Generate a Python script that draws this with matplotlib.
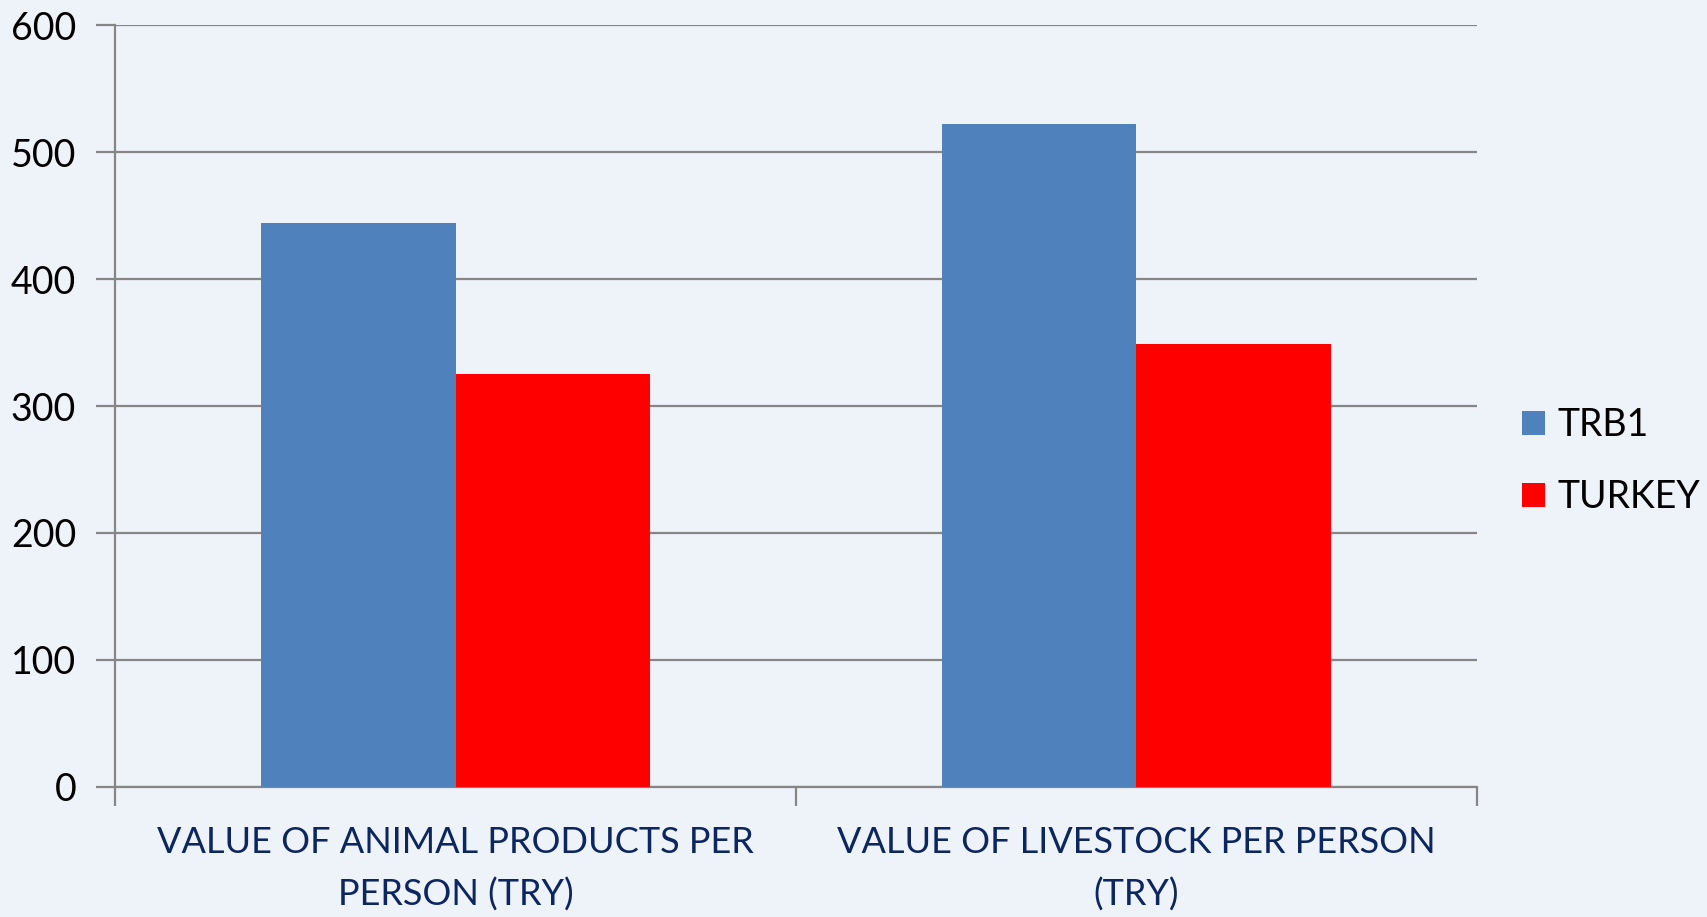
import matplotlib.pyplot as plt
import numpy as np

# chart data
categories = ['VALUE OF ANIMAL PRODUCTS PER\nPERSON (TRY)',
              'VALUE OF LIVESTOCK PER PERSON\n(TRY)']
series_names = ['TRB1', 'TURKEY']
trb1 = [444, 522]
turkey = [325, 349]
y_ticks = [0, 100, 200, 300, 400, 500, 600]

colors = ['#4f81bd', '#ff0000']
grid_color = '#868686'
label_color = '#0c2660'

plt.rcParams['font.family'] = ['Lato', 'DejaVu Sans']

fig = plt.figure(figsize=(17.07, 9.17), dpi=100, facecolor='#eef2f9')
ax = fig.add_axes([0.0674, 0.1418, 0.7978, 0.8309])
ax.set_facecolor('none')

x = np.arange(len(categories))
width = 1 / 3.5  # gap width 150%
ax.bar(x - width / 2, trb1, width, color=colors[0], label=series_names[0], zorder=3)
ax.bar(x + width / 2, turkey, width, color=colors[1], label=series_names[1], zorder=3)

ax.set_xlim(-0.5, len(categories) - 0.5)
ax.set_ylim(0, 600)
ax.set_yticks(y_ticks)
ax.yaxis.grid(True, color=grid_color, linewidth=1.6, zorder=0)

# category labels between boundary ticks
ax.set_xticks(np.arange(len(categories) + 1) - 0.5)
ax.set_xticklabels([])
ax.set_xticks(x, minor=True)
ax.set_xticklabels(categories, minor=True, fontsize=26, color=label_color,
                   linespacing=1.65)
ax.tick_params(axis='x', which='minor', length=0, pad=28)
ax.tick_params(axis='x', which='major', length=14, width=1.6, color=grid_color,
               direction='out')
ax.tick_params(axis='y', length=14, width=1.6, color=grid_color, labelsize=27,
               pad=14)

for side in ['top', 'right']:
    ax.spines[side].set_visible(False)
for side in ['left', 'bottom']:
    ax.spines[side].set_color(grid_color)
    ax.spines[side].set_linewidth(1.6)

ax.legend(loc='center left', bbox_to_anchor=(0.872, 0.497),
          bbox_transform=fig.transFigure, frameon=False, fontsize=27,
          handlelength=0.6, handleheight=0.6, handletextpad=0.35,
          labelspacing=0.95)

fig.savefig('out.png', dpi=100, facecolor=fig.get_facecolor())
